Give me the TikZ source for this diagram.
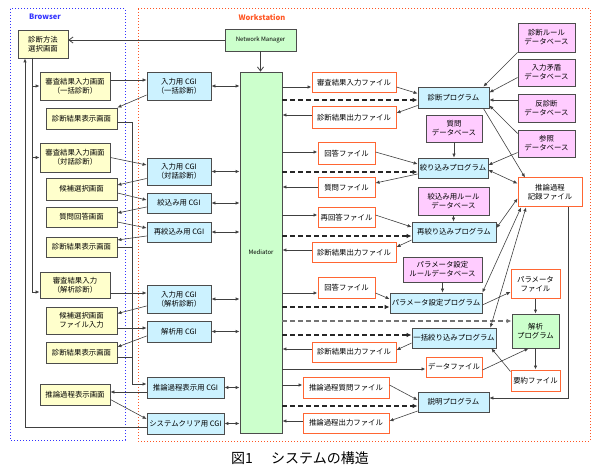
\documentclass[tikz,border=0pt]{standalone}
\usepackage{fontspec}
\setmainfont{Noto Sans CJK JP}
\usetikzlibrary{arrows.meta}
\definecolor{scrfill}{HTML}{FFFFCC}
\definecolor{cgifill}{HTML}{CCF2FF}
\definecolor{dbfill}{HTML}{FFCCFF}
\definecolor{mgrfill}{HTML}{CCFFCC}
\definecolor{fileline}{HTML}{FF6633}
\definecolor{browline}{HTML}{3333FF}
\definecolor{workline}{HTML}{FF5522}

\begin{document}
\begin{tikzpicture}[x=1pt,y=-1pt,
    box/.style={draw=black!70,line width=0.8pt,inner sep=1pt,align=center,font=\fontsize{7.4}{8.8}\selectfont},
    sz/.style 2 args={minimum width=#1pt,minimum height=#2pt},
    screen/.style={box,fill=scrfill},
    cgi/.style={box,fill=cgifill},
    prog/.style={box,fill=cgifill},
    dbase/.style={box,fill=dbfill},
    file/.style={box,draw=fileline,line width=1pt,fill=white},
    mgr/.style={box,fill=mgrfill},
    arr/.style={draw=black!75,line width=0.6pt,-{Latex[length=4pt,width=3.5pt]}},
    darr/.style={draw=black!75,line width=0.6pt,{Latex[length=4pt,width=3.5pt]}-{Latex[length=4pt,width=3.5pt]}},
    medarr/.style={arr,line width=0.9pt},
    dasharr/.style={draw=black!85,line width=1.2pt,dash pattern=on 5pt off 3pt,-{Latex[length=5pt,width=4.5pt]}},
    openarr/.style={draw=black!75,line width=0.8pt,-{Straight Barb[length=4pt,width=6pt]}}]
  \useasboundingbox (0,0) rectangle (600,473);

  % frames
  \draw[browline,dotted,line width=1pt] (10,9) rectangle (125,440);
  \draw[workline,dotted,line width=1pt] (138,9) rectangle (590,441);
  \node[font=\fontsize{7.5}{9}\selectfont\bfseries,text=browline] (lbrow) at (45,17) {Browser};
  \node[font=\fontsize{7.5}{9}\selectfont\bfseries,text=workline] (lwork) at (262,17) {Workstation};

  % browser screens
  \node[screen,sz={50}{28}] (s1) at (43,44) {診断方法\\選択画面};
  \node[screen,sz={70}{28}] (s2) at (75,86) {審査結果入力画面\\（一括診断）};
  \node[screen,sz={71}{21}] (s3) at (81.5,118.5) {診断結果表示画面};
  \node[screen,sz={70}{29}] (s4) at (75,157.5) {審査結果入力画面\\（対話診断）};
  \node[screen,sz={71}{22}] (s5) at (81.5,189) {候補選択画面};
  \node[screen,sz={71}{20}] (s6) at (81.5,217) {質問回答画面};
  \node[screen,sz={71}{20}] (s7) at (81.5,247) {診断結果表示画面};
  \node[screen,sz={70}{26}] (s8) at (75,285) {審査結果入力\\（解析診断）};
  \node[screen,sz={71}{27}] (s9) at (81.5,320.5) {候補選択画面\\ファイル入力};
  \node[screen,sz={71}{21}] (s10) at (81.5,352.5) {診断結果表示画面};
  \node[screen,sz={70}{21}] (s11) at (75,394.5) {推論過程表示画面};

  % cgi
  \node[cgi,sz={64}{28}] (c1) at (179,86) {入力用 CGI\\（一括診断）};
  \node[cgi,sz={64}{27}] (c2) at (179,171.5) {入力用 CGI\\（対話診断）};
  \node[cgi,sz={64}{20}] (c3) at (179,203) {絞込み用 CGI};
  \node[cgi,sz={64}{20}] (c4) at (179,232) {再絞込み用 CGI};
  \node[cgi,sz={64}{28}] (c5) at (179,299) {入力用 CGI\\（解析診断）};
  \node[cgi,sz={64}{21}] (c6) at (179,331.5) {解析用 CGI};
  \node[cgi,sz={77}{21}] (c7) at (185.5,387.5) {推論過程表示用 CGI};
  \node[cgi,sz={77}{21}] (c8) at (185.5,423.5) {システムクリア用 CGI};

  \node[mgr,sz={42}{361},font=\fontsize{6}{7}\selectfont] (med) at (261,252.5) {Mediator};
  \node[mgr,sz={71}{22},font=\fontsize{6}{7}\selectfont\itshape] (nm) at (260.5,40) {Network Manager};

  % files
  \node[file,sz={84}{20}] (f1) at (354,83) {審査結果入力ファイル};
  \node[file,sz={84}{22}] (f2) at (354,118) {診断結果出力ファイル};
  \node[file,sz={57}{22}] (f3) at (346.5,154) {回答ファイル};
  \node[file,sz={57}{20}] (f4) at (346.5,188) {質問ファイル};
  \node[file,sz={57}{20}] (f5) at (346.5,218) {再回答ファイル};
  \node[file,sz={84}{20}] (f6) at (354,253) {診断結果出力ファイル};
  \node[file,sz={57}{20}] (f7) at (346.5,288) {回答ファイル};
  \node[file,sz={84}{20}] (f8) at (354,352) {診断結果出力ファイル};
  \node[file,sz={56}{20}] (f9) at (454,367) {データファイル};
  \node[file,sz={86}{21}] (f10) at (346,387.5) {推論過程質問ファイル};
  \node[file,sz={86}{20}] (f11) at (346,423) {推論過程出力ファイル};
  \node[file,sz={64}{29}] (rec) at (550,192.5) {推論過程\\記録ファイル};
  \node[file,sz={49}{28}] (pf) at (535.5,284) {パラメータ\\ファイル};
  \node[file,sz={49}{21}] (sf) at (535.5,380.5) {要約ファイル};

  % programs
  \node[prog,sz={71}{21}] (p1) at (453.5,97.5) {診断プログラム};
  \node[prog,sz={70}{20}] (p2) at (453,168) {絞り込みプログラム};
  \node[prog,sz={84}{20}] (p3) at (454,232) {再絞り込みプログラム};
  \node[prog,sz={92}{20}] (p4) at (436,303) {パラメータ設定プログラム};
  \node[prog,sz={84}{20}] (p5) at (454,338) {一括絞り込みプログラム};
  \node[prog,sz={71}{20}] (p6) at (453.5,402) {説明プログラム};
  \node[mgr,sz={47}{34}] (ap) at (535.5,331) {解析\\プログラム};

  % databases
  \node[dbase,sz={57}{29}] (d1) at (546.5,37.5) {診断ルール\\データベース};
  \node[dbase,sz={57}{27}] (d2) at (546.5,72.5) {入力矛盾\\データベース};
  \node[dbase,sz={57}{28}] (d3) at (546.5,108) {反診断\\データベース};
  \node[dbase,sz={57}{27}] (d4) at (546.5,143.5) {参照\\データベース};
  \node[dbase,sz={56}{27}] (d5) at (454,128.5) {質問\\データベース};
  \node[dbase,sz={71}{28}] (d6) at (453.5,201) {絞込み用ルール\\データベース};
  \node[dbase,sz={79}{25}] (d7) at (442.5,269.5) {パラメータ設定\\ルールデータベース};

  \node[font=\fontsize{14}{16}\selectfont] (cap) at (300,458) {図1\hspace{1.3em}システムの構造};

  % network manager
  \draw[openarr] (nm.west) -- (nm.west -| s1.east);
  \draw[openarr] (nm.south) -- (nm.south |- med.north);

  % browser buses
  \coordinate (busa) at (32,58);
  \coordinate (busb) at (25,427);
  \coordinate (busc) at (132,0);
  \draw[arr,line width=0.9pt] (busa) |- (s2.west);
  \draw[arr,line width=0.9pt] (busa) |- (s4.west);
  \draw[arr,line width=0.9pt] (busa) |- ([yshift=-7pt]s8.west);
  \draw[arr,line width=0.9pt] ([yshift=-3.5pt]c8.west) -| (s1.south -| busb);
  \coordinate (c7in) at ([yshift=3.5pt]c7.west);
  \draw[arr,line width=0.9pt] ([yshift=-3.5pt]s3.east) -| (busc |- c7in) -- (c7in);
  \draw[line width=0.9pt,black!75] (s7.east) -- (s7.east -| busc);
  \draw[line width=0.9pt,black!75] ([yshift=-4.5pt]s10.east) -- ([yshift=-4.5pt]s10.east -| busc);

  % screens and cgi
  \draw[arr] ([yshift=6pt]s2.east) -- ([yshift=6pt]c1.west);
  \draw[arr] ([yshift=-9pt]c1.west) -- (s3.north east);
  \draw[arr] (s4.east) -- ([yshift=6.5pt]c2.west);
  \draw[arr] ([yshift=-7pt]c2.west) -- ([yshift=4pt]s5.east);
  \draw[arr] ([yshift=-4pt]s5.east) -- ([yshift=3pt]c3.west);
  \draw[arr] ([yshift=-4pt]c3.west) -- ([yshift=4pt]s6.east);
  \draw[arr] ([yshift=-5pt]s6.east) -- ([yshift=4pt]c4.west);
  \draw[arr] ([yshift=-4pt]c4.west) -- ([yshift=7pt]s7.east);
  \draw[arr] ([yshift=-8pt]s8.east) -- ([yshift=6pt]c5.west);
  \draw[arr] ([yshift=-7pt]c5.west) -- ([yshift=7pt]s9.east);
  \draw[arr] ([yshift=-7.5pt]s9.east) -- ([yshift=3.5pt]c6.west);
  \draw[arr] ([yshift=-4.5pt]c6.west) -- ([yshift=5.5pt]s10.east);
  \draw[arr] ([yshift=-4.5pt]c7.west) -- ([yshift=2.5pt]s11.east);
  \draw[arr] ([yshift=-5pt]s11.east) -- ([yshift=4.5pt]c8.west);

  \foreach \c in {c1,c2,c3,c4,c5,c6,c7,c8}
    \draw[darr,line width=0.9pt] (\c.east) -- (\c.east -| med.west);

  % mediator and files
  \foreach \f/\s in {f1/-4,f3/2,f5/3,f7/-5,f9/-2,f10/2.5}
    \draw[medarr] ([yshift=\s pt]\f.west -| med.east) -- ([yshift=\s pt]\f.west);
  \foreach \f/\s in {f2/3,f4/1,f6/3,f8/3,f11/2}
    \draw[medarr] ([yshift=\s pt]\f.west) -- ([yshift=\s pt]\f.west -| med.east);
  \foreach \p/\s in {p1/-2.5,p2/-4,p3/-4,p4/-4,p5/3,p6/-4}
    \draw[dasharr] ([yshift=\s pt]\p.west -| med.east) -- ([yshift=\s pt]\p.west);
  \draw[dasharr,draw=black!55] ([yshift=10pt]ap.west -| med.east) -- ([yshift=10pt]ap.west);

  % diagnosis
  \draw[arr] ([yshift=-4pt]f1.east) -- ([yshift=4pt]p1.west);
  \draw[arr] ([yshift=-8pt]p1.west) -- ([yshift=5pt]f2.east);
  \draw[arr] (d1.south west) -- ([xshift=-6pt]p1.north east);
  \draw[arr] ([yshift=-5pt]d2.west) -- ([yshift=5pt]p1.east);
  \draw[arr] ([yshift=8pt]d3.west) -- ([yshift=8pt]d3.west -| p1.east);
  \draw[arr] ([yshift=10pt]d4.west) -- ([yshift=-8pt]p1.east);
  \draw[arr] ([xshift=-6pt]p1.south east) -- ([xshift=-25pt]rec.north);

  % narrowing
  \draw[arr] ([yshift=-9pt]d4.west) -- ([yshift=3pt]p2.east);
  \draw[arr] (d5.south) -- (d5.south |- p2.north);
  \draw[arr] ([yshift=2pt]f3.east) -- ([yshift=4pt]p2.west);
  \draw[arr] ([yshift=-6pt]p2.west) -- ([yshift=5pt]f4.east);
  \draw[darr] ([yshift=-2pt]p2.east) -- ([yshift=9pt]rec.west);

  \draw[arr] (d6.south) -- (d6.south |- p3.north);
  \draw[arr] ([yshift=3pt]f5.east) -- ([yshift=5pt]p3.west);
  \draw[arr] ([yshift=-8pt]p3.west) -- ([yshift=6pt]f6.east);
  \draw[darr] ([yshift=4pt]p3.east) -- ([yshift=-6pt]rec.west);

  % parameters and analysis
  \draw[darr] (p4.north east) -- ([xshift=-29pt]rec.south);
  \draw[darr] ([xshift=-6pt]p5.north east) -- ([xshift=-24pt]rec.south);
  \draw[arr] (d7.south) -- (d7.south |- p4.north);
  \draw[arr] ([yshift=-5pt]f7.east) -- ([yshift=4pt]p4.west);
  \draw[arr] ([yshift=-2pt]p4.east) -- ([yshift=-8pt]pf.west);
  \draw[arr,line width=0.9pt] (pf.south) -- (ap.north);
  \draw[arr,line width=0.9pt] (ap.south) -- (sf.north);
  \draw[arr] ([yshift=-5pt]p5.west) -- ([yshift=2pt]f8.east);
  \draw[arr] ([yshift=-3pt]f9.east) -- ([xshift=-7pt]ap.south);
  \draw[arr] ([yshift=9pt]sf.west) -- ([xshift=-5pt]p5.south east);

  % explanation
  \draw[arr] ([xshift=18pt]rec.south) |- ([yshift=4pt]p6.east);
  \draw[arr] ([yshift=2.5pt]f10.east) -- ([yshift=2pt]p6.west);
  \draw[arr] ([yshift=-9pt]p6.west) -- ([yshift=2pt]f11.east);
\end{tikzpicture}
\end{document}
